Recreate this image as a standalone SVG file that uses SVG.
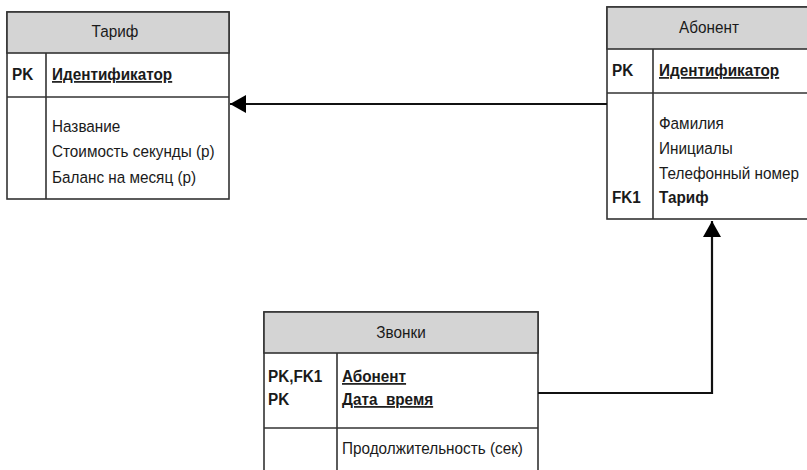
<svg xmlns="http://www.w3.org/2000/svg" width="807" height="470" viewBox="0 0 807 470">
<style>
.box{fill:#fff;stroke:#333;stroke-width:1.6}
.hdr{fill:#d4d4d4;stroke:#333;stroke-width:1.6}
.ln{stroke:#333;stroke-width:1.6;fill:none}
text{font-family:"Liberation Sans",Arial,sans-serif;font-size:17px;fill:#1a1a1a}
.b{font-weight:bold}
.u{text-decoration:underline}
.c{text-anchor:middle}
.conn{stroke:#111;stroke-width:2.2;fill:none}
</style>
<defs>
<marker id="arr" viewBox="0 0 16 18" refX="16" refY="9" markerWidth="16" markerHeight="18" markerUnits="userSpaceOnUse" orient="auto">
<path d="M0,0 L16,9 L0,18 Z" fill="#000"/>
</marker>
</defs>
<g id="tarif">
<rect class="box" x="7" y="12" width="222" height="187"/>
<rect class="hdr" x="7" y="12" width="222" height="41"/>
<line class="ln" x1="7" y1="97" x2="229" y2="97"/>
<line class="ln" x1="46" y1="53" x2="46" y2="199"/>
<text class="c" transform="matrix(0.9 0 0 1 115 37)">Тариф</text>
<text class="b" transform="matrix(0.9 0 0 1 12 80)">PK</text>
<text class="b u" transform="matrix(0.9 0 0 1 52 80)">Идентификатор</text>
<text transform="matrix(0.9 0 0 1 52 132)">Название</text>
<text transform="matrix(0.9 0 0 1 52 157)">Стоимость секунды (р)</text>
<text transform="matrix(0.9 0 0 1 52 183)">Баланс на месяц (р)</text>
</g>
<g id="abonent">
<rect class="box" x="607" y="7" width="204" height="212"/>
<rect class="hdr" x="607" y="7" width="204" height="42"/>
<line class="ln" x1="607" y1="93" x2="811" y2="93"/>
<line class="ln" x1="653" y1="49" x2="653" y2="219"/>
<text class="c" transform="matrix(0.9 0 0 1 709 33)">Абонент</text>
<text class="b" transform="matrix(0.9 0 0 1 612 76)">PK</text>
<text class="b u" transform="matrix(0.9 0 0 1 659 76)">Идентификатор</text>
<text transform="matrix(0.9 0 0 1 659 129)">Фамилия</text>
<text transform="matrix(0.9 0 0 1 659 154)">Инициалы</text>
<text transform="matrix(0.9 0 0 1 659 179)">Телефонный номер</text>
<text class="b" transform="matrix(0.9 0 0 1 612 203)">FK1</text>
<text class="b" transform="matrix(0.9 0 0 1 659 203)">Тариф</text>
</g>
<g id="zvonki">
<rect class="box" x="264" y="312" width="274" height="170"/>
<rect class="hdr" x="264" y="312" width="274" height="41"/>
<line class="ln" x1="264" y1="428" x2="538" y2="428"/>
<line class="ln" x1="337" y1="353" x2="337" y2="482"/>
<text class="c" transform="matrix(0.9 0 0 1 401 338)">Звонки</text>
<text class="b" transform="matrix(0.9 0 0 1 268 382)">PK,FK1</text>
<text class="b" transform="matrix(0.9 0 0 1 268 405)">PK</text>
<text class="b u" transform="matrix(0.9 0 0 1 342 382)">Абонент</text>
<text class="b u" transform="matrix(0.9 0 0 1 342 405)">Дата_время</text>
<text transform="matrix(0.9 0 0 1 342 454)">Продолжительность (сек)</text>
</g>
<g id="connectors">
<path class="conn" d="M607,104 H230" marker-end="url(#arr)"/>
<path class="conn" d="M538,393 H712 V221" marker-end="url(#arr)"/>
</g>
</svg>
